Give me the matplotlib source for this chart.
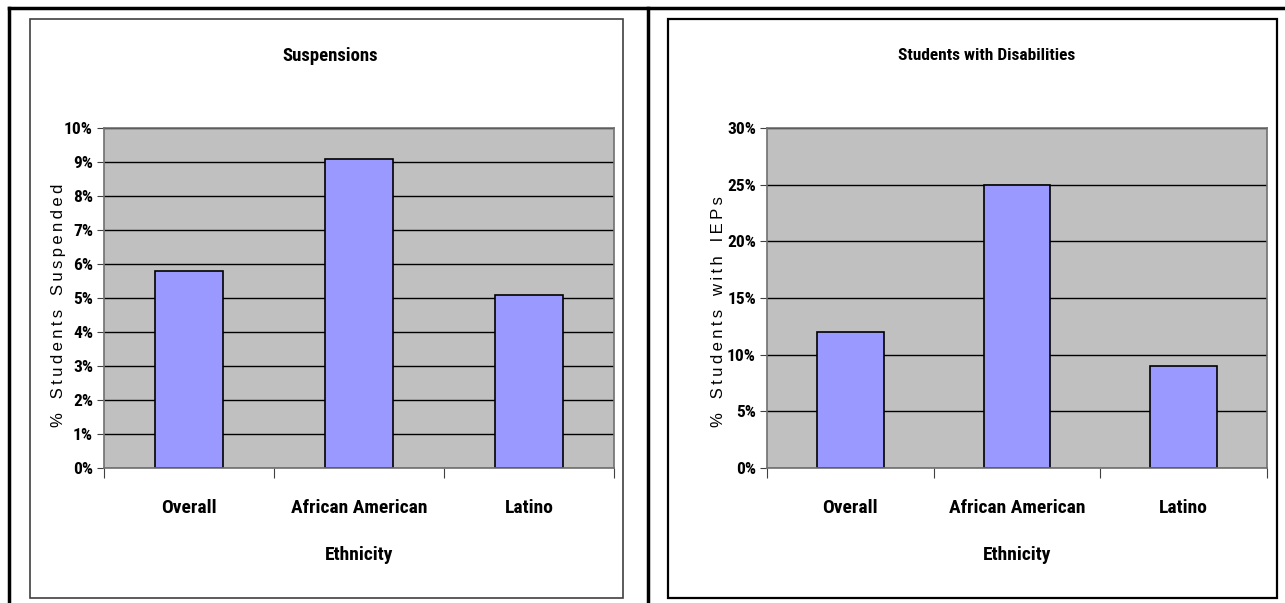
import matplotlib.pyplot as plt
import numpy as np
from matplotlib.patches import Rectangle
from matplotlib.lines import Line2D
from matplotlib.ticker import MultipleLocator, FuncFormatter
from matplotlib import font_manager

# pick a narrow bold sans if one is around, else plain Liberation Sans
wanted = ['Liberation Sans Narrow', 'Arial Narrow', 'Roboto Condensed',
          'Archivo Narrow', 'PT Sans Narrow', 'Fira Sans Condensed',
          'IBM Plex Sans Condensed', 'Encode Sans Condensed', 'Asap Condensed']
bold_fams = set(f.name for f in font_manager.fontManager.ttflist
                if (f.weight if isinstance(f.weight, int) else 400) >= 600
                or f.weight == 'bold')
narrow = [n for n in wanted if n in bold_fams]
plt.rcParams['font.family'] = narrow[:1] + ['Liberation Sans', 'DejaVu Sans']

categories = ['Overall', 'African American', 'Latino']
suspended = [5.8, 9.1, 5.1]
ieps = [12, 25, 9]

W, H = 1285, 603
fig = plt.figure(figsize=(W / 100, H / 100), dpi=100)

def fx(px):
    return px / W

def fy(py):
    return 1 - py / H

def spaced(s):
    # wide letter spacing like the original axis title
    return '   '.join('\u2009'.join(w) for w in s.split(' '))

# outer frame lines
fig.add_artist(Line2D([fx(9), 1], [fy(8), fy(8)], color='black', lw=2.5))
fig.add_artist(Line2D([fx(9), fx(9)], [fy(8), 0], color='black', lw=2.5))
fig.add_artist(Line2D([fx(648), fx(648)], [fy(8), 0], color='black', lw=2.5))

# chart boxes
fig.add_artist(Rectangle((fx(30), fy(598)), fx(593), (598 - 19) / H,
                         fill=False, ec='#404040', lw=1.2))
fig.add_artist(Rectangle((fx(668), fy(598)), fx(609), (598 - 19) / H,
                         fill=False, ec='black', lw=1.6))


def draw(ax, vals, ymax, step, title, tx, tsize, ylabel, lx, ly):
    x = np.arange(len(categories))
    ax.set_facecolor('#C0C0C0')
    ax.set_axisbelow(True)
    ax.yaxis.grid(True, color='black', lw=1)
    ax.bar(x, vals, width=0.4, color='#9999FF', edgecolor='black', lw=1.2)
    ax.set_xlim(-0.5, len(categories) - 0.5)
    ax.set_ylim(0, ymax)
    ax.yaxis.set_major_locator(MultipleLocator(step))
    ax.yaxis.set_major_formatter(FuncFormatter(lambda v, p: '%d%%' % round(v)))
    ax.set_xticks(np.arange(len(categories) + 1) - 0.5)
    ax.set_xticklabels([])
    ax.set_xticks(x, minor=True)
    ax.set_xticklabels(categories, minor=True)
    ax.tick_params(axis='x', which='major', length=7, color='#404040', direction='out')
    ax.tick_params(axis='x', which='minor', length=0, pad=22, labelsize=14)
    ax.tick_params(axis='y', length=5, color='#404040', labelsize=12.5, pad=3)
    for lab in ax.get_xticklabels(minor=True) + ax.get_yticklabels():
        lab.set_fontweight('bold')
    for s in ax.spines.values():
        s.set_color('#707070')
        s.set_linewidth(1.2)
    fig.text(fx(tx), fy(56), title, fontsize=tsize, fontweight='bold',
             ha='center', va='center')
    ax.set_xlabel('Ethnicity', fontsize=14, fontweight='bold', labelpad=21)
    ax.set_ylabel(spaced(ylabel), fontsize=12,
                  family=['Liberation Sans', 'DejaVu Sans'])
    pos = ax.get_position()
    ax.yaxis.set_label_coords((fx(lx) - pos.x0) / pos.width,
                              (fy(ly) - pos.y0) / pos.height)


ax1 = fig.add_axes([fx(104), fy(468), fx(510), 340 / H])
draw(ax1, suspended, 10, 1, 'Suspensions', 330, 13.5,
     '% Students Suspended', 66, 305)

ax2 = fig.add_axes([fx(767), fy(468), fx(500), 340 / H])
draw(ax2, ieps, 30, 5, 'Students with Disabilities', 987, 12.5,
     '% Students with IEPs', 726, 312)

fig.savefig('out.png', dpi=100)
